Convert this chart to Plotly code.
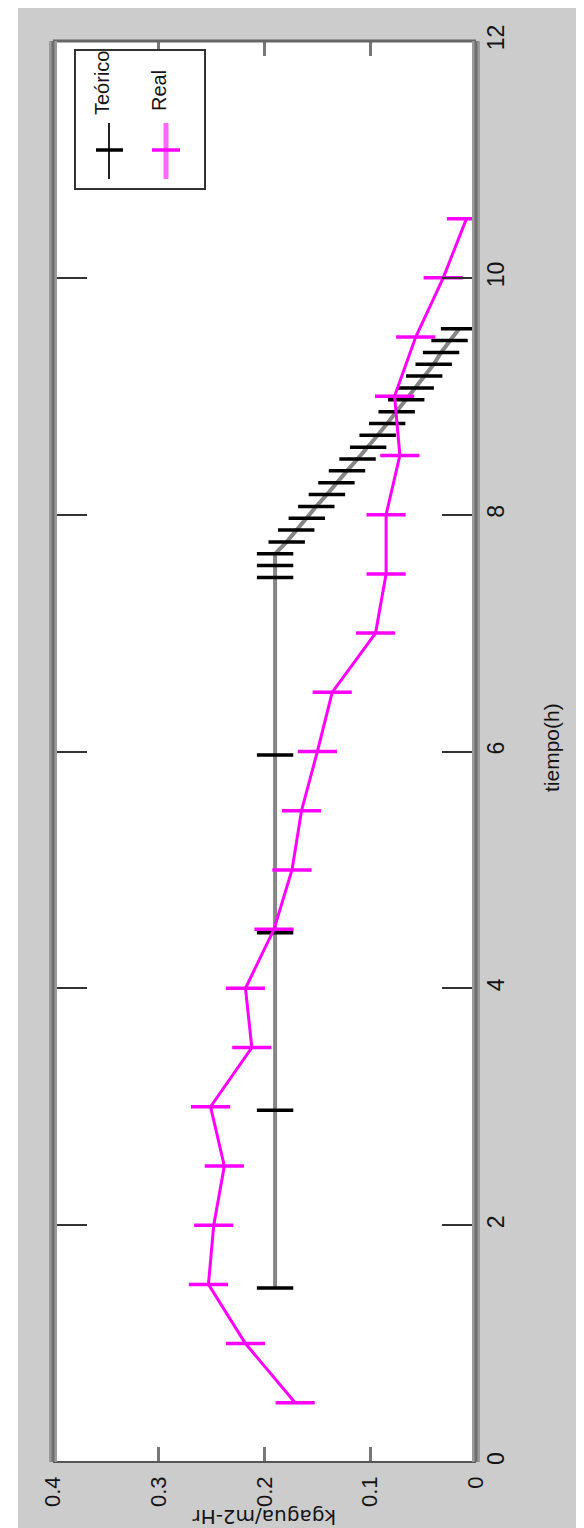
import plotly.graph_objects as go

# ---------------- data ----------------
teorico_t = [1.47, 2.97, 4.47, 5.97, 7.47, 7.57, 7.67, 7.77, 7.87, 7.97, 8.07, 8.17,
             8.27, 8.37, 8.47, 8.57, 8.67, 8.77, 8.87, 8.97, 9.07, 9.17, 9.27,
             9.37, 9.47, 9.57]
teorico_k = [0.190, 0.190, 0.190, 0.190, 0.190, 0.190, 0.190, 0.179, 0.170, 0.160,
             0.151, 0.141, 0.132, 0.122, 0.112, 0.102, 0.093, 0.084, 0.075, 0.066,
             0.057, 0.049, 0.040, 0.033, 0.025, 0.016]

real_t = [0.5, 1.0, 1.5, 2.0, 2.5, 3.0, 3.5, 4.0, 4.5, 5.0, 5.5, 6.0, 6.5, 7.0,
          7.5, 8.0, 8.5, 9.0, 9.5, 10.0, 10.5]
real_k = [0.171, 0.218, 0.253, 0.248, 0.238, 0.251, 0.212, 0.218, 0.191, 0.174,
          0.165, 0.150, 0.136, 0.095, 0.085, 0.085, 0.072, 0.077, 0.057, 0.031,
          0.009]

k_ticks = [0, 0.1, 0.2, 0.3, 0.4]
k_ticktext = ["0", "0.1", "0.2", "0.3", "0.4"]
t_ticks = [0, 2, 4, 6, 8, 10, 12]
t_ticktext = ["0", "2", "4", "6", "8", "10", "12"]

series_names = ["Teórico", "Real"]
x_title = "kgagua/m2-Hr"
y_title = "tiempo(h)"

# ---------------- layout geometry (pixels) ----------------
W, H = 584, 1528
L, R, T, B = 45, 468, 33, 1454


def px(x):
    return (x - L) / (R - L)


def py(y):
    return (B - y) / (B - T)


FONT = "Liberation Sans, Arial, sans-serif"
MAGENTA = "#ff00ff"
TXT = "#141414"

fig = go.Figure()

fig.add_trace(go.Scatter(
    x=teorico_k, y=teorico_t, mode="lines+markers", name=series_names[0],
    line=dict(color="#868686", width=4),
    marker=dict(symbol="line-ew", size=26, color="black",
                line=dict(color="black", width=3.5)),
    showlegend=False,
))
fig.add_trace(go.Scatter(
    x=real_k, y=real_t, mode="lines+markers", name=series_names[1],
    line=dict(color=MAGENTA, width=3),
    marker=dict(symbol="line-ew", size=28, color=MAGENTA,
                line=dict(color=MAGENTA, width=3.5)),
    showlegend=False,
))

shapes = []
# white strip at the left image edge
shapes.append(dict(type="rect", xref="paper", yref="paper", x0=px(0), x1=px(10),
                   y0=py(H), y1=py(0), fillcolor="white", line=dict(width=0),
                   layer="below"))
# frame
shapes.append(dict(type="line", xref="paper", yref="paper", x0=0, x1=1, y0=0, y1=0,
                   line=dict(color="#555555", width=2)))
shapes.append(dict(type="line", xref="paper", yref="paper", x0=0, x1=1, y0=1, y1=1,
                   line=dict(color="#666666", width=3)))
for xx in (0, 1):
    shapes.append(dict(type="line", xref="paper", yref="paper", x0=xx, x1=xx,
                       y0=0, y1=1, line=dict(color="#9a9a9a", width=8)))
    shapes.append(dict(type="line", xref="paper", yref="paper", x0=xx, x1=xx,
                       y0=0, y1=1, line=dict(color="#6e6e6e", width=3)))

# legend box
shapes.append(dict(type="rect", xref="paper", yref="paper", x0=px(67), x1=px(197),
                   y0=py(181), y1=py(42), fillcolor="white",
                   line=dict(color="#333333", width=2)))
# legend samples
shapes.append(dict(type="line", xref="paper", yref="paper", x0=px(101), x1=px(101),
                   y0=py(171), y1=py(115), line=dict(color="#222222", width=2)))
shapes.append(dict(type="line", xref="paper", yref="paper", x0=px(88), x1=px(115),
                   y0=py(142), y1=py(142), line=dict(color="black", width=3.5)))
shapes.append(dict(type="line", xref="paper", yref="paper", x0=px(158), x1=px(158),
                   y0=py(171), y1=py(115), line=dict(color="#ff66ff", width=5)))
shapes.append(dict(type="line", xref="paper", yref="paper", x0=px(144), x1=px(172),
                   y0=py(142), y1=py(142), line=dict(color=MAGENTA, width=3.5)))

annotations = [
    dict(text=series_names[0], xref="paper", yref="paper", x=px(94), y=py(75),
         textangle=-90, showarrow=False, xanchor="center", yanchor="middle",
         font=dict(family=FONT, size=20, color=TXT)),
    dict(text=series_names[1], xref="paper", yref="paper", x=px(151), y=py(83),
         textangle=-90, showarrow=False, xanchor="center", yanchor="middle",
         font=dict(family=FONT, size=20, color=TXT)),
    dict(text=y_title, xref="paper", yref="paper", x=px(544), y=py(740),
         textangle=-90, showarrow=False, xanchor="center", yanchor="middle",
         font=dict(family=FONT, size=21, color=TXT)),
    dict(text=x_title, xref="paper", yref="paper", x=px(256), y=py(1509),
         textangle=180, showarrow=False, xanchor="center", yanchor="middle",
         font=dict(family="DejaVu Sans", size=20, color=TXT)),
]

fig.update_layout(
    width=W, height=H,
    margin=dict(l=L, r=W - R, t=T, b=H - B, pad=0),
    paper_bgcolor="#cccccc",
    plot_bgcolor="white",
    showlegend=False,
    shapes=shapes,
    annotations=annotations,
    xaxis=dict(
        range=[0.4, 0], tickmode="array", tickvals=k_ticks, ticktext=k_ticktext,
        ticks="inside", ticklen=15, tickwidth=3, tickcolor="#777777",
        mirror="ticks", showline=False, showgrid=False, zeroline=False,
        tickangle=-90, ticklabelstandoff=9, automargin=False,
        tickfont=dict(family=FONT, size=22, color=TXT),
    ),
    yaxis=dict(
        range=[0, 12], side="right", tickmode="array", tickvals=t_ticks,
        ticktext=t_ticktext,
        ticks="inside", ticklen=34, tickwidth=1.5, tickcolor="#333333",
        mirror="ticks", showline=False, showgrid=False, zeroline=False,
        tickangle=-90, ticklabelstandoff=4, automargin=False,
        tickfont=dict(family=FONT, size=23, color=TXT),
    ),
)

fig.write_html("out.html")
